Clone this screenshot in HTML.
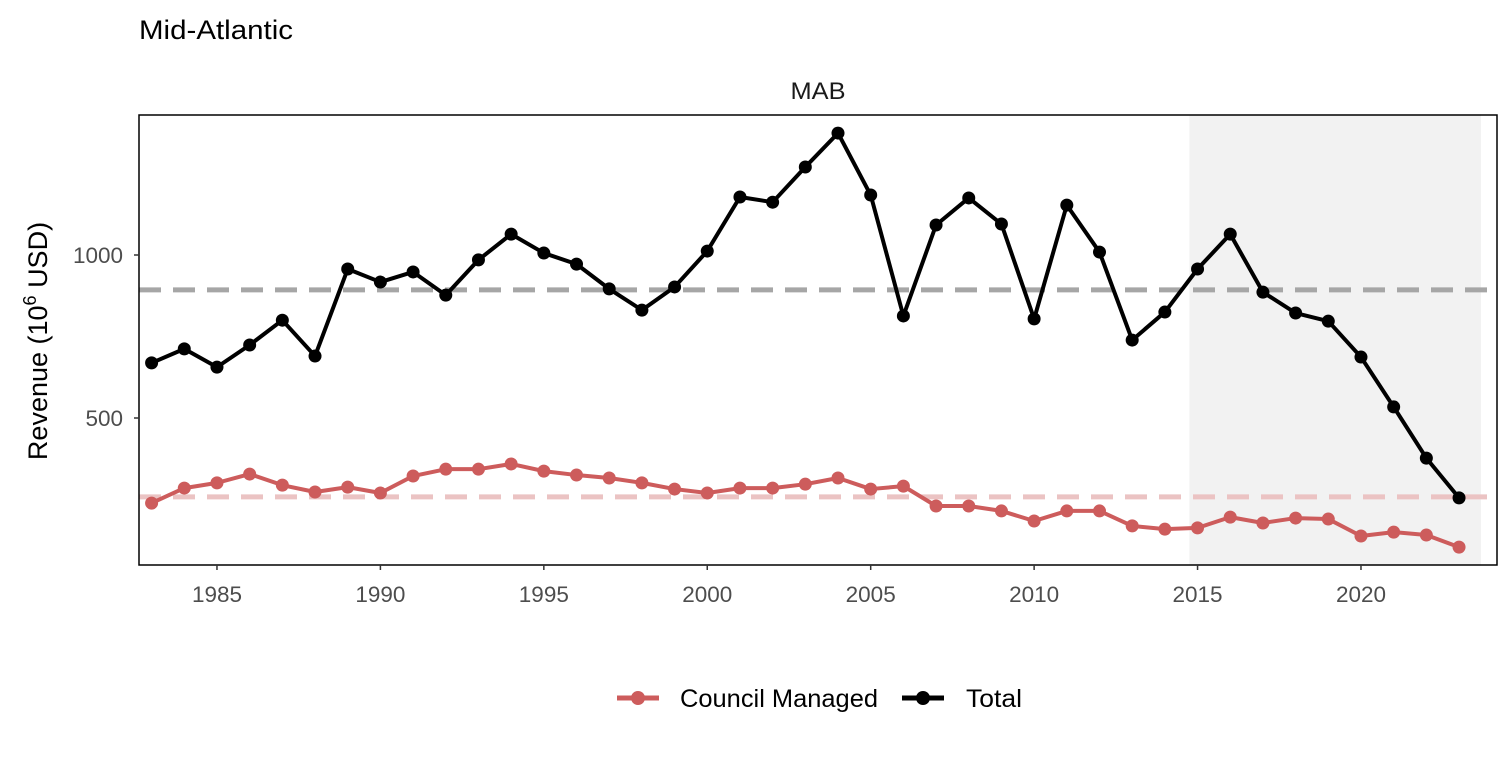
<!DOCTYPE html>
<html><head><meta charset="utf-8"><style>
body{margin:0;background:#fff;font-family:"Liberation Sans",Arial,sans-serif;}
svg text{font-family:"Liberation Sans",Arial,sans-serif;}
</style></head><body>
<svg id="c" width="1512" height="756" viewBox="0 0 1512 756">
<text x="139" y="39" font-size="27" textLength="154" lengthAdjust="spacingAndGlyphs" fill="#000">Mid-Atlantic</text>
<text x="818" y="99" font-size="24" textLength="55" lengthAdjust="spacingAndGlyphs" text-anchor="middle" fill="#1a1a1a">MAB</text>
<text transform="translate(47,341) rotate(-90)" font-size="27" text-anchor="middle" fill="#000">Revenue (10<tspan dy="-11" font-size="18">6</tspan><tspan dy="11"> USD)</tspan></text>
<g id="plot"></g>
<g>
<g>
<line x1="617" y1="698" x2="659" y2="698" stroke="#cd5c5c" stroke-width="5"/><circle cx="638" cy="698" r="7" fill="#cd5c5c"/>
<text x="680" y="707" font-size="25" textLength="198" lengthAdjust="spacingAndGlyphs">Council Managed</text></g>
<g>
<line x1="902" y1="698" x2="944" y2="698" stroke="#000" stroke-width="5"/><circle cx="923" cy="698" r="7" fill="#000"/>
<text x="966" y="707" font-size="25" textLength="56" lengthAdjust="spacingAndGlyphs">Total</text></g>
</g>
</svg>
<script>
const years=[];for(let y=1983;y<=2023;y++)years.push(y);
const totalValues=[669,712,656,724,800,690,957,917,948,877,985,1064,1006,972,896,831,902,1012,1178,1162,1270,1374,1184,813,1092,1175,1095,804,1153,1009,739,825,957,1064,886,822,797,687,534,377,255];
const councilValues=[239,285,301,328,294,273,288,270,322,343,343,359,337,325,316,301,282,270,285,285,297,316,282,291,230,230,215,184,215,215,169,159,163,196,178,193,190,138,150,141,104];
const totalMean=[893];
const councilMean=[258];
const yTicks=[500,1000];
const xTicks=[1985,1990,1995,2000,2005,2010,2015,2020];
const shadeRange=[2014.75,2023.67];
const L=139,R=1497,T=115,B=565;
const X=v=>151.6+(v-1983)*32.686;
const Y=v=>581-v*163/500;
const NS="http://www.w3.org/2000/svg";
const g=document.getElementById('plot');
function mk(t,a,p){const e=document.createElementNS(NS,t);for(const k in a)e.setAttribute(k,a[k]);(p||g).appendChild(e);return e;}
let e=mk('rect',{x:X(shadeRange[0]),y:T,width:X(shadeRange[1])-X(shadeRange[0]),height:B-T,fill:'#f2f2f2'});


e=mk('line',{x1:L,x2:R,y1:Y(totalMean[0]),y2:Y(totalMean[0]),stroke:'#a6a6a6','stroke-width':5,'stroke-dasharray':'22,12'});


e=mk('line',{x1:L,x2:R,y1:Y(councilMean[0]),y2:Y(councilMean[0]),stroke:'#ebc3c3','stroke-width':5,'stroke-dasharray':'22,12'});


function series(vals,col,name){
 e=mk('polyline',{points:vals.map((v,i)=>X(years[i])+','+Y(v)).join(' '),fill:'none',stroke:col,'stroke-width':4,'stroke-linejoin':'round'});
 
 
 vals.forEach((v,i)=>{const c=mk('circle',{cx:X(years[i]),cy:Y(v),r:6.5,fill:col});
 
 });
}
series(councilValues,'#cd5c5c','council');
series(totalValues,'#000','total');
e=mk('rect',{x:L,y:T,width:R-L,height:B-T,fill:'none',stroke:'#000','stroke-width':1.5});


yTicks.forEach(v=>{mk('line',{x1:L-5,x2:L,y1:Y(v),y2:Y(v),stroke:'#333','stroke-width':1.5});
 const t=mk('text',{x:L-16,y:Y(v)+8,'font-size':22.5,'text-anchor':'end',fill:'#4d4d4d'});t.textContent=v;
 
 });
xTicks.forEach(v=>{mk('line',{x1:X(v),x2:X(v),y1:B,y2:B+5,stroke:'#333','stroke-width':1.5});
 const t=mk('text',{x:X(v),y:602,'font-size':22.5,'text-anchor':'middle',fill:'#4d4d4d'});t.textContent=v;
 
 });
</script>
</body></html>
